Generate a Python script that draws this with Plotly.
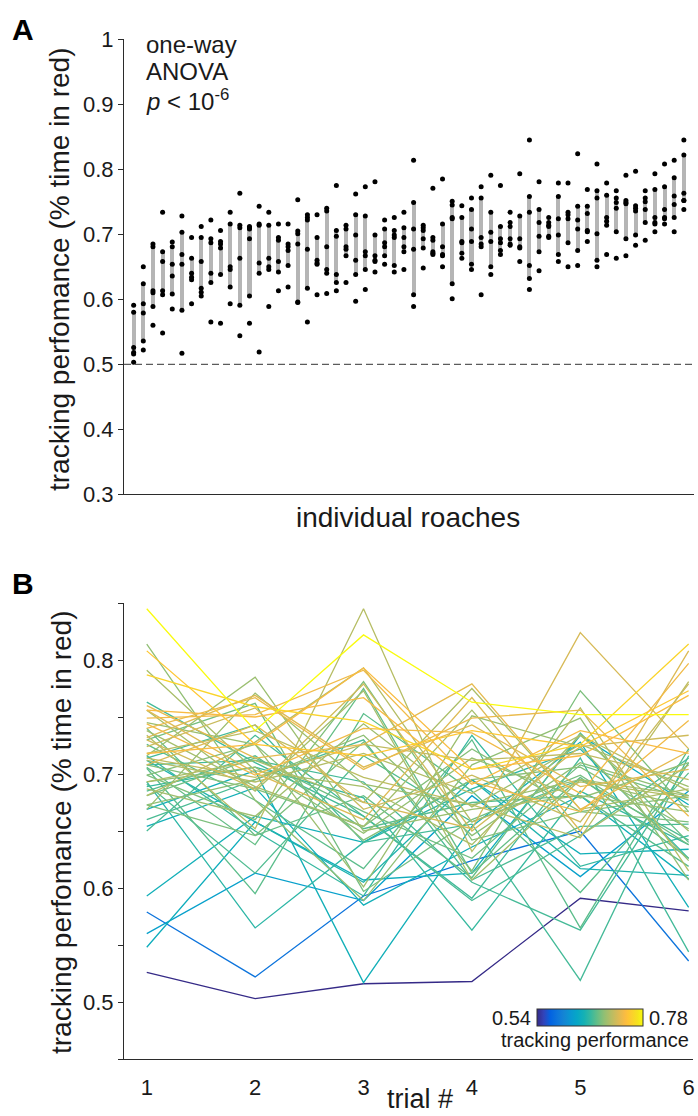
import numpy as np
import plotly.graph_objects as go
import plotly.colors as pc

# ---------------- data (one value per roach, roaches sorted by mean) ----------------
roach_ids = list(range(1, 59))
trial_numbers = [1, 2, 3, 4, 5, 6]

trial_1 = [0.526, 0.579, 0.560, 0.548, 0.654, 0.669, 0.593, 0.712, 0.693, 0.689,
           0.716, 0.763, 0.708, 0.714, 0.650, 0.691, 0.685, 0.705, 0.726, 0.660,
           0.740, 0.706, 0.681, 0.730, 0.673, 0.699, 0.708, 0.699, 0.673, 0.814,
           0.693, 0.669, 0.716, 0.745, 0.687, 0.738, 0.756, 0.791, 0.693, 0.712,
           0.681, 0.734, 0.718, 0.714, 0.724, 0.730, 0.708, 0.732, 0.756, 0.760,
           0.740, 0.749, 0.744, 0.756, 0.718, 0.808, 0.787, 0.845]
trial_2 = [0.503, 0.522, 0.613, 0.658, 0.688, 0.703, 0.663, 0.658, 0.565, 0.706,
           0.650, 0.710, 0.712, 0.743, 0.734, 0.613, 0.716, 0.595, 0.677, 0.695,
           0.646, 0.638, 0.714, 0.762, 0.646, 0.660, 0.687, 0.726, 0.695, 0.677,
           0.706, 0.771, 0.785, 0.726, 0.663, 0.689, 0.685, 0.703, 0.712, 0.693,
           0.728, 0.652, 0.738, 0.697, 0.758, 0.687, 0.743, 0.769, 0.701, 0.714,
           0.767, 0.752, 0.699, 0.750, 0.726, 0.726, 0.759, 0.738]
trial_3 = [0.516, 0.593, 0.589, 0.607, 0.585, 0.517, 0.640, 0.605, 0.640, 0.679,
           0.593, 0.663, 0.693, 0.640, 0.663, 0.716, 0.652, 0.753, 0.617, 0.730,
           0.681, 0.775, 0.667, 0.597, 0.728, 0.781, 0.654, 0.642, 0.734, 0.589,
           0.648, 0.691, 0.650, 0.601, 0.744, 0.654, 0.773, 0.689, 0.675, 0.718,
           0.793, 0.845, 0.697, 0.726, 0.669, 0.779, 0.675, 0.706, 0.660, 0.726,
           0.704, 0.791, 0.740, 0.767, 0.793, 0.716, 0.746, 0.822]
trial_4 = [0.518, 0.624, 0.681, 0.613, 0.636, 0.654, 0.695, 0.695, 0.687, 0.563,
           0.734, 0.591, 0.605, 0.656, 0.589, 0.658, 0.675, 0.685, 0.730, 0.607,
           0.609, 0.613, 0.626, 0.660, 0.615, 0.642, 0.722, 0.695, 0.646, 0.708,
           0.714, 0.673, 0.669, 0.751, 0.671, 0.756, 0.607, 0.638, 0.775, 0.683,
           0.658, 0.632, 0.673, 0.712, 0.699, 0.650, 0.652, 0.743, 0.767, 0.779,
           0.749, 0.693, 0.736, 0.691, 0.704, 0.738, 0.704, 0.763]
trial_5 = [0.591, 0.650, 0.610, 0.734, 0.681, 0.728, 0.630, 0.617, 0.722, 0.685,
           0.619, 0.714, 0.563, 0.519, 0.646, 0.695, 0.681, 0.596, 0.565, 0.654,
           0.736, 0.697, 0.708, 0.699, 0.773, 0.667, 0.667, 0.706, 0.710, 0.749,
           0.679, 0.695, 0.681, 0.724, 0.726, 0.646, 0.695, 0.734, 0.669, 0.734,
           0.693, 0.758, 0.644, 0.718, 0.658, 0.724, 0.824, 0.689, 0.650, 0.669,
           0.756, 0.667, 0.683, 0.738, 0.716, 0.724, 0.726, 0.752]
trial_6 = [0.580, 0.536, 0.685, 0.673, 0.608, 0.583, 0.634, 0.611, 0.626, 0.638,
           0.646, 0.544, 0.710, 0.716, 0.714, 0.642, 0.619, 0.701, 0.722, 0.656,
           0.640, 0.626, 0.677, 0.638, 0.667, 0.658, 0.681, 0.652, 0.681, 0.607,
           0.710, 0.671, 0.667, 0.624, 0.689, 0.708, 0.681, 0.650, 0.687, 0.685,
           0.679, 0.615, 0.781, 0.695, 0.779, 0.734, 0.722, 0.704, 0.808, 0.720,
           0.663, 0.747, 0.797, 0.718, 0.769, 0.773, 0.814, 0.752]

ya_ticks = [0.3, 0.4, 0.5, 0.6, 0.7, 0.8, 0.9, 1.0]
ya_labels = ["0.3", "0.4", "0.5", "0.6", "0.7", "0.8", "0.9", "1"]
yb_ticks = [0.5, 0.6, 0.7, 0.8]
yb_labels = ["0.5", "0.6", "0.7", "0.8"]
yb_minor = [0.45, 0.55, 0.65, 0.75, 0.85]
chance_level = 0.5

# ---------------- derived ----------------
M = np.array([trial_1, trial_2, trial_3, trial_4, trial_5, trial_6]).T  # roach x trial
srt = np.sort(M, axis=1)
q_lo = srt[:, 1]
q_hi = srt[:, 4]
means = M.mean(axis=1)
cmin, cmax = float(means.min()), float(means.max())

# MATLAB parula colormap (subsampled from the 64-entry table)
_par = [(1, 0.2081, 0.1663, 0.5292), (5, 0.1959, 0.2645, 0.7279), (9, 0.0117, 0.3875, 0.8820),
        (13, 0.0498, 0.4586, 0.8641), (17, 0.0793, 0.5200, 0.8312), (21, 0.0343, 0.5966, 0.8199),
        (25, 0.0228, 0.6535, 0.7768), (29, 0.0843, 0.6928, 0.7062), (33, 0.2178, 0.7250, 0.6193),
        (37, 0.3953, 0.7459, 0.5244), (41, 0.5709, 0.7485, 0.4494), (45, 0.7184, 0.7411, 0.3905),
        (49, 0.8507, 0.7299, 0.3360), (53, 0.9739, 0.7314, 0.2666), (55, 0.9990, 0.7653, 0.2164),
        (57, 0.9880, 0.8066, 0.1794), (61, 0.9589, 0.8949, 0.1132), (64, 0.9763, 0.9831, 0.0538)]
parula = [[(n - 1) / 63, f"rgb({int(round(r*255))},{int(round(g*255))},{int(round(b*255))})"]
          for n, r, g, b in _par]

W, H = 698, 1116
def px(v):  # x pixel -> paper
    return v / W
def py(v):  # y pixel -> paper
    return 1 - v / H

FONT = "Liberation Sans, Arial, Helvetica, sans-serif"
AX = '#2b2b2b'
TXT = '#1a1a1a'

XB_PX = (124, 693)
YB_PX = (1059, 603)

fig = go.Figure()

# Panel A: IQR bars
fig.add_trace(go.Bar(x=roach_ids, y=q_hi - q_lo, base=q_lo, width=0.42,
                     marker=dict(color='#b5b5b5', line=dict(width=0)),
                     xaxis='x', yaxis='y', showlegend=False, hoverinfo='skip'))
# Panel A: individual trials
all_x = roach_ids * 6
all_y = trial_1 + trial_2 + trial_3 + trial_4 + trial_5 + trial_6
fig.add_trace(go.Scatter(x=all_x, y=all_y, mode='markers',
                         marker=dict(color='black', size=5, line=dict(width=0)),
                         xaxis='x', yaxis='y', showlegend=False))

# Panel B: one line per roach, colored by mean
for i in range(len(roach_ids)):
    t = (means[i] - cmin) / (cmax - cmin)
    col = pc.sample_colorscale(parula, [t])[0]
    fig.add_trace(go.Scatter(x=trial_numbers, y=list(M[i]), mode='lines',
                             line=dict(color=col, width=1.3),
                             xaxis='x2', yaxis='y2', showlegend=False))

# colorbar carrier
fig.add_trace(go.Scatter(x=[None], y=[None], mode='markers', xaxis='x2', yaxis='y2',
                         showlegend=False,
                         marker=dict(color=[cmin, cmax], cmin=cmin, cmax=cmax,
                                     colorscale=parula, showscale=True,
                                     colorbar=dict(orientation='h', x=px(537), y=py(1009.3),
                                                   xanchor='left', yanchor='top',
                                                   len=106, lenmode='pixels',
                                                   thickness=17, thicknessmode='pixels',
                                                   xpad=0, ypad=0, showticklabels=False,
                                                   ticks='', outlinewidth=1,
                                                   outlinecolor='#333333'))))

axis_line = dict(showgrid=False, zeroline=False, showline=True, linecolor=AX,
                 linewidth=1, tickcolor=AX, automargin=False)
tickfont = dict(size=22, color=TXT, family=FONT)

fig.update_layout(
    template='none',
    width=W, height=H, margin=dict(l=0, r=0, t=0, b=0, pad=0, autoexpand=False),
    paper_bgcolor='white', plot_bgcolor='rgba(0,0,0,0)', bargap=0,
    font=dict(family=FONT, color=TXT), hovermode=False,
    xaxis=dict(domain=[px(124), px(693.5)], range=[0, 59], anchor='y',
               showticklabels=False, ticks='', **axis_line),
    yaxis=dict(domain=[py(494.3), py(39.3)], range=[0.3, 1.0], anchor='x',
               tickvals=ya_ticks, ticktext=ya_labels, ticks='outside', ticklen=5,
               tickfont=tickfont, **axis_line),
    xaxis2=dict(domain=[px(XB_PX[0]), px(XB_PX[1])], range=[0.79, 6.04], anchor='y2',
                tickvals=trial_numbers, ticktext=[str(t) for t in trial_numbers],
                ticks='', ticklabelstandoff=9, tickfont=tickfont, **axis_line),
    yaxis2=dict(domain=[py(YB_PX[0]), py(YB_PX[1])], range=[0.45, 0.85], anchor='x2',
                tickvals=yb_ticks, ticktext=yb_labels, ticks='outside', ticklen=5,
                minor=dict(tickvals=yb_minor, ticks='outside', ticklen=5, tickcolor=AX),
                tickfont=tickfont, **axis_line),
)

# dashed chance line
fig.add_shape(type='line', xref='x domain', yref='y', x0=0, x1=1,
              y0=chance_level, y1=chance_level,
              line=dict(color='#333333', width=1, dash='7px,4px'))

ann = []
def A(text, x, y, size, xanchor='center', yanchor='middle', angle=0, bold=False):
    ann.append(dict(text=f"<b>{text}</b>" if bold else text, x=px(x), y=py(y),
                    xref='paper', yref='paper', showarrow=False, xanchor=xanchor,
                    yanchor=yanchor, textangle=angle, borderpad=0,
                    font=dict(size=size, family=FONT, color='black' if bold else TXT)))

A("A", 23, 29, 30, bold=True)
A("B", 23, 583, 30, bold=True)
A("one-way", 145, 45, 24, xanchor='left')
A("ANOVA", 145, 72, 24, xanchor='left')
A("<i>p</i> &lt; 10<sup>-6</sup>", 145, 100, 24, xanchor='left')
A("tracking perfomance (% time in red)", 60, 269, 28, angle=-90)
A("tracking perfomance (% time in red)", 61, 832, 28, angle=-90)
A("individual roaches", 408, 517, 28)
A("trial #", 420, 1099, 27)
A(f"{cmin:.2f}", 532, 1018, 20, xanchor='right')
A(f"{cmax:.2f}", 648, 1018, 20, xanchor='left')
A("tracking performance", 690, 1040, 20, xanchor='right')
fig.update_layout(annotations=ann)

fig.write_html("out.html")
